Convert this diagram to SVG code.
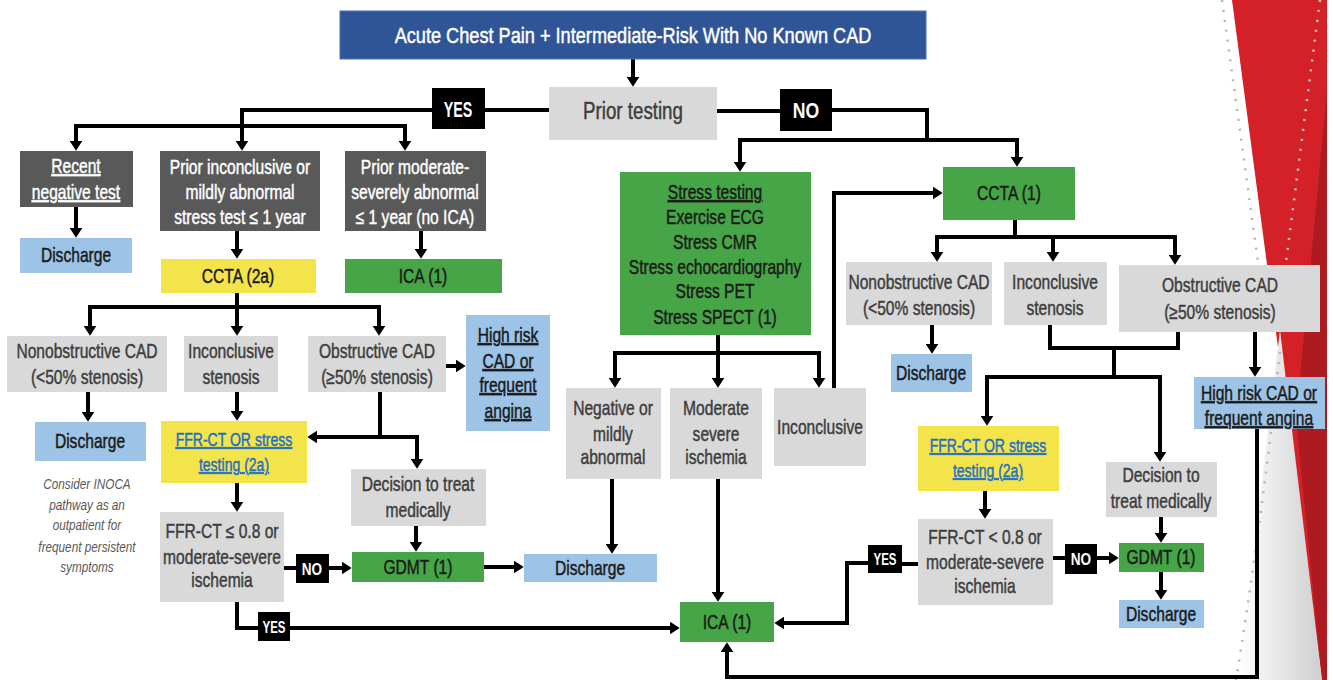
<svg xmlns="http://www.w3.org/2000/svg" width="1333" height="680" viewBox="0 0 1333 680">
<style>
text{font-family:"Liberation Sans",Arial,sans-serif;text-anchor:middle;font-size:20px;fill:#3d3d3d;stroke:#3d3d3d;stroke-width:0.45px}
.w{fill:#ffffff;stroke:#ffffff}
.k{fill:#1a1a1a;stroke:#1a1a1a}
.u{text-decoration:underline}
.lnk{fill:#1f6fc6;stroke:#1f6fc6;text-decoration:underline;font-size:18px}
.lab{fill:#ffffff;stroke:none;font-size:22px;font-weight:bold}
.labs{fill:#ffffff;stroke:none;font-size:17px;font-weight:bold}
.note{font-size:14px;font-style:italic;fill:#595959;stroke:none}
.dk{fill:#595959}
.lg{fill:#d9d9d9}
.bl{fill:#9dc3e6}
.gr{fill:#46a546}
.ye{fill:#f4e44c}
.bk{fill:#000000}
.c{fill:none;stroke:#000;stroke-width:4;stroke-linejoin:miter}
.a{fill:none;stroke:#000;stroke-width:4;stroke-linejoin:miter;marker-end:url(#ah)}
</style>
<defs>
<marker id="ah" viewBox="0 0 10 10" refX="0.3" refY="5" markerWidth="10" markerHeight="13" markerUnits="userSpaceOnUse" orient="auto" preserveAspectRatio="none">
<path d="M0,0 L10,5 L0,10 z" fill="#000"/>
</marker>
<linearGradient id="gg" x1="0" y1="0" x2="1" y2="0">
<stop offset="0" stop-color="#ffffff"/>
<stop offset="1" stop-color="#cfcfcf"/>
</linearGradient>
</defs>
<rect width="1333" height="680" fill="#ffffff"/>
<g id="decoration">
<polygon points="1232,0 1333,0 1333,680 1322,680" fill="#d42128"/>
<polygon points="1327,90 1333,90 1333,680 1322,680 1296,420" fill="#ad1b21"/>
<polygon points="1280,330 1322,680 1238,680" fill="url(#gg)"/>
<polygon points="1327,0 1333,0 1333,680 1327,680" fill="#ffffff"/>
<path d="M1222,0 L1258,262 M1280,352 Q1262,520 1236,680" fill="none" stroke="#b5b5b5" stroke-width="2.5" stroke-dasharray="2 8"/>
<path d="M1320,0 L1286,262" fill="none" stroke="#c9c9c9" stroke-width="2.5" stroke-dasharray="2 8"/>
</g>
<g id="connectors">
<path class="a" d="M633,59 V77"/>
<path class="c" d="M485,110 H549"/>
<path class="c" d="M717,111 H780"/>
<path class="c" d="M432,110 H242 V126"/>
<path class="c" d="M74,126 H407"/>
<path class="a" d="M242,126 V141"/>
<path class="a" d="M76,126 V141"/>
<path class="a" d="M405,126 V141"/>
<path class="c" d="M832,110 H927 V140"/>
<path class="c" d="M738,140 H1019"/>
<path class="a" d="M740,140 V162"/>
<path class="a" d="M1017,140 V157"/>
<path class="a" d="M76,207 V228"/>
<path class="a" d="M237,231 V249"/>
<path class="a" d="M421,231 V249"/>
<path class="c" d="M237,293 V307"/>
<path class="c" d="M88,307 H381"/>
<path class="a" d="M90,307 V326"/>
<path class="a" d="M237,307 V326"/>
<path class="a" d="M379,307 V326"/>
<path class="a" d="M446,366 H456"/>
<path class="a" d="M88,392 V412"/>
<path class="a" d="M237,392 V411"/>
<path class="c" d="M380,392 V437"/>
<path class="a" d="M417,437 H317"/>
<path class="a" d="M417,435 V459"/>
<path class="a" d="M416,526 V542"/>
<path class="a" d="M237,483 V502"/>
<path class="c" d="M284,568 H296"/>
<path class="a" d="M329,568 H342"/>
<path class="a" d="M484,567 H514"/>
<path class="c" d="M237,602 V628 H258"/>
<path class="a" d="M290,628 H670"/>
<path class="c" d="M718,335 V353"/>
<path class="c" d="M613,353 H821"/>
<path class="a" d="M615,353 V378"/>
<path class="a" d="M718,353 V378"/>
<path class="a" d="M819,353 V378"/>
<path class="a" d="M612,479 V544"/>
<path class="a" d="M718,479 V592"/>
<path class="a" d="M834,388 V193 H933"/>
<path class="c" d="M1015,220 V237"/>
<path class="c" d="M935,237 H1177"/>
<path class="a" d="M937,237 V252"/>
<path class="a" d="M1053,237 V252"/>
<path class="a" d="M1175,237 V255"/>
<path class="a" d="M932,325 V344"/>
<path class="c" d="M1050,325 V348 H1178 V332"/>
<path class="c" d="M1114,348 V377"/>
<path class="c" d="M985,377 H1162"/>
<path class="a" d="M987,377 V416"/>
<path class="a" d="M1160,377 V452"/>
<path class="a" d="M1255,332 V367"/>
<path class="a" d="M1257,429 V677 H727 V652"/>
<path class="a" d="M985,491 V509"/>
<path class="c" d="M918,564 H902"/>
<path class="a" d="M868,563 H847 V623 H784"/>
<path class="c" d="M1053,558 H1065"/>
<path class="a" d="M1097,558 H1109"/>
<path class="a" d="M1161,517 V533"/>
<path class="a" d="M1161,572 V590"/>
</g>
<g id="n-title"><rect x="340" y="11" width="586" height="48" fill="#2f5597" stroke="#4472c4"/><g transform="matrix(.826 0 0 1 110.14 0)"><text class="w" x="633" y="43" style="font-size:22px">Acute Chest Pain + Intermediate-Risk With No Known CAD</text></g></g>
<g id="n-prior"><rect class="lg" x="549" y="87" width="168" height="53"/><g transform="matrix(.78 0 0 1 139.26 0)"><text x="633" y="119" style="font-size:24px">Prior testing</text></g></g>
<g id="n-yes1"><rect class="bk" x="432" y="88" width="53" height="41"/><g transform="matrix(.65 0 0 1 160.3 0)"><text class="lab" x="458" y="117">YES</text></g></g>
<g id="n-no1"><rect class="bk" x="780" y="89" width="52" height="42"/><g transform="matrix(.8 0 0 1 161.2 0)"><text class="lab" x="806" y="118">NO</text></g></g>
<g id="n-recent"><rect class="dk" x="20" y="151" width="113" height="56"/><g transform="matrix(.78 0 0 1 16.72 0)"><text class="w u" x="76" y="173">Recent</text><text class="w u" x="76" y="199">negative test</text></g></g>
<g id="n-priorincon"><rect class="dk" x="160" y="151" width="160" height="80"/><g transform="matrix(.78 0 0 1 52.8 0)"><text class="w" x="240" y="174">Prior inconclusive or</text><text class="w" x="240" y="199">mildly abnormal</text><text class="w" x="240" y="224">stress test ≤ 1 year</text></g></g>
<g id="n-priormod"><rect class="dk" x="345" y="151" width="141" height="80"/><g transform="matrix(.78 0 0 1 91.3 0)"><text class="w" x="415" y="174">Prior moderate-</text><text class="w" x="415" y="199">severely abnormal</text><text class="w" x="415" y="224">≤ 1 year (no ICA)</text></g></g>
<g id="n-disch1"><rect class="bl" x="20" y="238" width="112" height="35"/><g transform="matrix(.78 0 0 1 16.72 0)"><text class="k" x="76" y="262">Discharge</text></g></g>
<g id="n-ccta2a"><rect class="ye" x="161" y="259" width="155" height="34"/><g transform="matrix(.78 0 0 1 52.36 0)"><text class="k" x="238" y="283">CCTA (2a)</text></g></g>
<g id="n-icatop"><rect class="gr" x="345" y="259" width="157" height="34"/><g transform="matrix(.78 0 0 1 93.06 0)"><text class="k" x="423" y="283">ICA (1)</text></g></g>
<g id="n-nonobL"><rect class="lg" x="7" y="336" width="160" height="56"/><g transform="matrix(.78 0 0 1 19.14 0)"><text x="87" y="358">Nonobstructive CAD</text><text x="87" y="384">(&lt;50% stenosis)</text></g></g>
<g id="n-inconL"><rect class="lg" x="184" y="336" width="94" height="56"/><g transform="matrix(.78 0 0 1 50.82 0)"><text x="231" y="358">Inconclusive</text><text x="231" y="384">stenosis</text></g></g>
<g id="n-obstrL"><rect class="lg" x="308" y="336" width="138" height="56"/><g transform="matrix(.78 0 0 1 82.94 0)"><text x="377" y="358">Obstructive CAD</text><text x="377" y="384">(≥50% stenosis)</text></g></g>
<g id="n-highL"><rect class="bl" x="466" y="315" width="84" height="116"/><g transform="matrix(.78 0 0 1 111.76 0)"><text class="k u" x="508" y="342">High risk</text><text class="k u" x="508" y="368">CAD or</text><text class="k u" x="508" y="392">frequent</text><text class="k u" x="508" y="418">angina</text></g></g>
<g id="n-dischL2"><rect class="bl" x="35" y="422" width="111" height="39"/><g transform="matrix(.78 0 0 1 19.8 0)"><text class="k" x="90" y="448">Discharge</text></g></g>
<g id="n-note"><g transform="matrix(.84 0 0 1 13.92 0)"><text class="note" x="87" y="489">Consider INOCA</text><text class="note" x="87" y="510">pathway as an</text><text class="note" x="87" y="530">outpatient for</text><text class="note" x="87" y="552">frequent persistent</text><text class="note" x="87" y="572">symptoms</text></g></g>
<g id="n-ffrL"><rect class="ye" x="161" y="421" width="146" height="62"/><g transform="matrix(.78 0 0 1 51.48 0)"><text class="lnk" x="234" y="446">FFR-CT OR stress</text><text class="lnk" x="234" y="471">testing (2a)</text></g></g>
<g id="n-decisionL"><rect class="lg" x="351" y="469" width="135" height="57"/><g transform="matrix(.78 0 0 1 91.96 0)"><text x="418" y="491">Decision to treat</text><text x="418" y="517">medically</text></g></g>
<g id="n-gdmtL"><rect class="gr" x="352" y="552" width="132" height="30"/><g transform="matrix(.78 0 0 1 91.96 0)"><text class="k" x="418" y="574">GDMT (1)</text></g></g>
<g id="n-ffrctL"><rect class="lg" x="160" y="512" width="124" height="90"/><g transform="matrix(.78 0 0 1 48.84 0)"><text x="222" y="538">FFR-CT ≤ 0.8 or</text><text x="222" y="564">moderate-severe</text><text x="222" y="587">ischemia</text></g></g>
<g id="n-noL"><rect class="bk" x="296" y="554" width="33" height="29"/><g transform="matrix(.8 0 0 1 62.4 0)"><text class="labs" x="312" y="575">NO</text></g></g>
<g id="n-yesL"><rect class="bk" x="258" y="612" width="32" height="29"/><g transform="matrix(.68 0 0 1 87.68 0)"><text class="labs" x="274" y="633">YES</text></g></g>
<g id="n-dischM"><rect class="bl" x="524" y="554" width="133" height="28"/><g transform="matrix(.78 0 0 1 129.8 0)"><text class="k" x="590" y="575">Discharge</text></g></g>
<g id="n-icaB"><rect class="gr" x="680" y="602" width="94" height="40"/><g transform="matrix(.78 0 0 1 159.94 0)"><text class="k" x="727" y="629">ICA (1)</text></g></g>
<g id="n-stress"><rect class="gr" x="620" y="172" width="191" height="163"/><g transform="matrix(.78 0 0 1 157.3 0)"><text class="k u" x="715" y="199">Stress testing</text><text class="k" x="715" y="224">Exercise ECG</text><text class="k" x="715" y="249">Stress CMR</text><text class="k" x="715" y="274">Stress echocardiography</text><text class="k" x="715" y="298">Stress PET</text><text class="k" x="715" y="324">Stress SPECT (1)</text></g></g>
<g id="n-negmild"><rect class="lg" x="566" y="388" width="95" height="91"/><g transform="matrix(.78 0 0 1 134.86 0)"><text x="613" y="415">Negative or</text><text x="613" y="441">mildly</text><text x="613" y="464">abnormal</text></g></g>
<g id="n-modsev"><rect class="lg" x="670" y="388" width="92" height="91"/><g transform="matrix(.78 0 0 1 157.52 0)"><text x="716" y="415">Moderate</text><text x="716" y="441">severe</text><text x="716" y="464">ischemia</text></g></g>
<g id="n-inconM"><rect class="lg" x="774" y="388" width="92" height="78"/><g transform="matrix(.78 0 0 1 180.4 0)"><text x="820" y="434">Inconclusive</text></g></g>
<g id="n-ccta1"><rect class="gr" x="943" y="167" width="132" height="53"/><g transform="matrix(.78 0 0 1 221.98 0)"><text class="k" x="1009" y="200">CCTA (1)</text></g></g>
<g id="n-nonobR"><rect class="lg" x="846" y="262" width="146" height="63"/><g transform="matrix(.78 0 0 1 202.18 0)"><text x="919" y="289">Nonobstructive CAD</text><text x="919" y="315">(&lt;50% stenosis)</text></g></g>
<g id="n-inconR"><rect class="lg" x="1004" y="262" width="103" height="63"/><g transform="matrix(.78 0 0 1 232.1 0)"><text x="1055" y="289">Inconclusive</text><text x="1055" y="315">stenosis</text></g></g>
<g id="n-obstrR"><rect class="lg" x="1119" y="265" width="201" height="67"/><g transform="matrix(.78 0 0 1 268.4 0)"><text x="1220" y="292">Obstructive CAD</text><text x="1220" y="319">(≥50% stenosis)</text></g></g>
<g id="n-dischR1"><rect class="bl" x="891" y="354" width="81" height="38"/><g transform="matrix(.78 0 0 1 204.82 0)"><text class="k" x="931" y="380">Discharge</text></g></g>
<g id="n-highR"><rect class="bl" x="1194" y="377" width="131" height="52"/><g transform="matrix(.78 0 0 1 276.98 0)"><text class="k u" x="1259" y="400">High risk CAD or</text><text class="k u" x="1259" y="425">frequent angina</text></g></g>
<g id="n-ffrR"><rect class="ye" x="918" y="426" width="141" height="65"/><g transform="matrix(.78 0 0 1 217.36 0)"><text class="lnk" x="988" y="452">FFR-CT OR stress</text><text class="lnk" x="988" y="477">testing (2a)</text></g></g>
<g id="n-decisionR"><rect class="lg" x="1106" y="462" width="111" height="55"/><g transform="matrix(.78 0 0 1 255.42 0)"><text x="1161" y="482">Decision to</text><text x="1161" y="508">treat medically</text></g></g>
<g id="n-ffrctR"><rect class="lg" x="918" y="519" width="135" height="86"/><g transform="matrix(.78 0 0 1 216.7 0)"><text x="985" y="544">FFR-CT &lt; 0.8 or</text><text x="985" y="569">moderate-severe</text><text x="985" y="593">ischemia</text></g></g>
<g id="n-yesR"><rect class="bk" x="868" y="545" width="34" height="28"/><g transform="matrix(.68 0 0 1 283.2 0)"><text class="labs" x="885" y="565">YES</text></g></g>
<g id="n-noR"><rect class="bk" x="1065" y="544" width="32" height="30"/><g transform="matrix(.8 0 0 1 216.2 0)"><text class="labs" x="1081" y="565">NO</text></g></g>
<g id="n-gdmtR"><rect class="gr" x="1119" y="543" width="85" height="29"/><g transform="matrix(.78 0 0 1 255.42 0)"><text class="k" x="1161" y="564">GDMT (1)</text></g></g>
<g id="n-dischR2"><rect class="bl" x="1119" y="600" width="85" height="28"/><g transform="matrix(.78 0 0 1 255.42 0)"><text class="k" x="1161" y="621">Discharge</text></g></g>
</svg>
